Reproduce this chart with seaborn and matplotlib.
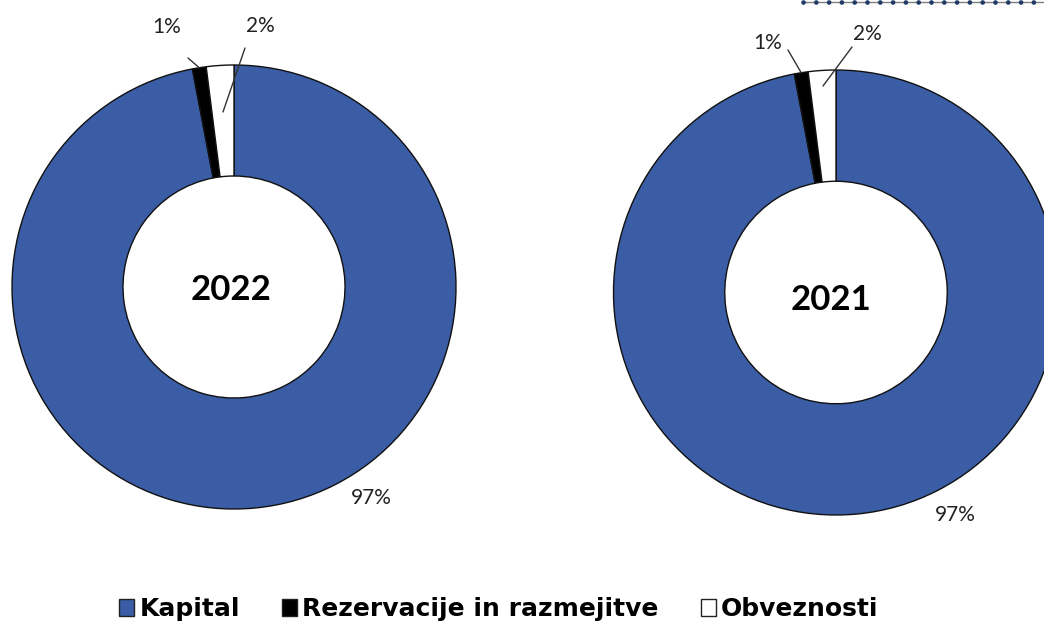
import matplotlib
matplotlib.use("Agg")
import numpy as np
import matplotlib.pyplot as plt
import seaborn as sns
from matplotlib.lines import Line2D
from matplotlib.patches import Patch

# Balance-sheet structure (share of liabilities side, %)
categories = ["Kapital", "Rezervacije in razmejitve", "Obveznosti"]
years = ["2022", "2021"]
shares_2022 = [97, 1, 2]
shares_2021 = [97, 1, 2]
share_labels = ["97%", "1%", "2%"]
colors = ["#3A5DA5", "#000000", "#FFFFFF"]

sns.set_theme(style="white")
plt.rcParams["font.family"] = ["Lato", "DejaVu Sans"]

W, H = 1044, 628
fig = plt.figure(figsize=(W / 100, H / 100), dpi=100)
ax = fig.add_axes([0, 0, 1, 1])

layout = [
    # center, radius, year text, 97% label, 1%/2% labels, leader starts, 2% leader depth
    dict(values=shares_2022, year=years[0], center=(234, H - 287), radius=222,
         year_xy=(231, H - 290), big=(371, H - 498), small=[(167, H - 27), (260, H - 26)],
         starts=[(188, H - 58), (245, H - 48)], depth=0.79),
    dict(values=shares_2021, year=years[1], center=(836, H - 292.5), radius=222.5,
         year_xy=(831, H - 300), big=(955, H - 515), small=[(768, H - 43), (867, H - 34)],
         starts=[(788, H - 50), (852, H - 47)], depth=0.93),
]

for d in layout:
    wedges, _ = ax.pie(d["values"], colors=colors, startangle=90, counterclock=False,
                       center=d["center"], radius=d["radius"],
                       wedgeprops=dict(width=d["radius"] * 0.5, edgecolor="#111111",
                                       linewidth=1.0))
    cx, cy = d["center"]
    ax.text(*d["year_xy"], d["year"], ha="center", va="center", fontsize=25,
            fontweight="bold", color="black")
    ax.text(*d["big"], share_labels[0], ha="center", va="center", fontsize=15, color="#222222")
    # leader lines for the two thin slices
    for i, (w, lab, txy, st) in enumerate(zip(wedges[1:], share_labels[1:], d["small"], d["starts"])):
        mid = np.deg2rad((w.theta1 + w.theta2) / 2)
        r = d["radius"] if i == 0 else d["radius"] * d["depth"]
        end = (cx + r * np.cos(mid), cy + r * np.sin(mid))
        ax.text(*txy, lab, ha="center", va="center", fontsize=15, color="#222222")
        ax.plot([st[0], end[0]], [st[1], end[1]], color="#333333", lw=1.0, zorder=5)

ax.set_xlim(0, W)
ax.set_ylim(0, H)
ax.set_aspect("equal")
ax.axis("off")

# dotted frame fragment along the top edge
fig.add_artist(Line2D([803 / W, 1.0], [1 - 2 / H, 1 - 2 / H], color="#7f7f7f", lw=1.0))
fig.add_artist(Line2D([803 / W, 1.0], [1 - 2 / H, 1 - 2 / H], color="#1F3B66", lw=3.4,
                      linestyle=(0, (0.01, 2.7)), dash_capstyle="round"))

legend_handles = [Patch(facecolor=c, edgecolor="#222222", linewidth=1.0) for c in colors]
leg = fig.legend(legend_handles, categories, loc="center", bbox_to_anchor=(499 / W, 1 - 609 / H),
                 ncol=3, frameon=False, handlelength=0.6, handleheight=0.65, handletextpad=0.2,
                 columnspacing=1.7,
                 prop=dict(family=["DejaVu Sans"], weight="bold", size=18))
for t in leg.get_texts():
    t.set_color("black")

fig.savefig("out.png", dpi=100, facecolor="white")
